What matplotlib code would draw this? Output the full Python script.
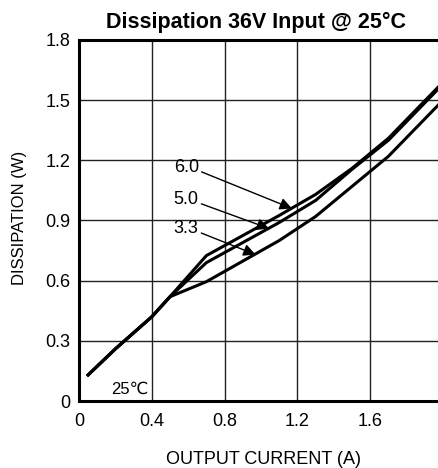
import matplotlib
matplotlib.use("Agg")
import matplotlib.pyplot as plt

plt.rcParams['font.family'] = ['Liberation Sans', 'DejaVu Sans']

current = [0.05, 0.2, 0.4, 0.5, 0.7, 1.1, 1.3, 1.5, 1.7, 2.0]
diss_60 = [0.13, 0.26, 0.42, 0.52, 0.725, 0.925, 1.03, 1.16, 1.31, 1.59]
diss_50 = [0.13, 0.26, 0.42, 0.52, 0.69, 0.89, 1.00, 1.155, 1.30, 1.58]
diss_33 = [0.13, 0.26, 0.42, 0.52, 0.595, 0.80, 0.92, 1.07, 1.22, 1.50]
x_ticks = [0, 0.4, 0.8, 1.2, 1.6, 2.0]
x_labels = ["0", "0.4", "0.8", "1.2", "1.6", "2"]
y_ticks = [0, 0.3, 0.6, 0.9, 1.2, 1.5, 1.8]
y_labels = ["0", "0.3", "0.6", "0.9", "1.2", "1.5", "1.8"]

W, H = 438, 468
fig = plt.figure(figsize=(W/100, H/100), dpi=100)
ax = fig.add_axes([79/W, 67/H, 364/W, 361/H])

for ys in (diss_60, diss_50, diss_33):
    ax.plot(current, ys, color='black', lw=2.2, solid_joinstyle='miter', zorder=3)

ax.set_xlim(0, 2.0)
ax.set_ylim(0, 1.8)
ax.set_xticks(x_ticks)
ax.set_xticklabels(x_labels)
ax.set_yticks(y_ticks)
ax.set_yticklabels(y_labels)
ax.tick_params(axis='both', length=0, labelsize=13, colors='black')
ax.tick_params(axis='x', pad=9)
ax.tick_params(axis='y', pad=6)
ax.grid(True, color='#222222', lw=1.0)
ax.set_axisbelow(True)
for s in ax.spines.values():
    s.set_linewidth(2.2)
    s.set_color('black')

arrow = dict(arrowstyle='-|>', color='black', lw=1.0, mutation_scale=18, shrinkA=0, shrinkB=0)
ax.annotate("6.0", xy=(1.17, 0.96), xytext=(0.52, 1.165), fontsize=13, va='center', ha='left',
            arrowprops=dict(arrow, relpos=(1.0, 0.3)))
ax.annotate("5.0", xy=(1.044, 0.86), xytext=(0.52, 1.005), fontsize=13, va='center', ha='left',
            arrowprops=dict(arrow, relpos=(1.0, 0.3)))
ax.annotate("3.3", xy=(0.97, 0.73), xytext=(0.52, 0.86), fontsize=13, va='center', ha='left',
            arrowprops=dict(arrow, relpos=(1.0, 0.3)))
ax.text(0.176, 0.06, "25\u2103", fontsize=12, va='center', ha='left')

fig.text(256/W, 1 - 28/H, "Dissipation 36V Input @ 25°C", fontsize=15.5, fontweight='bold',
         ha='center', va='baseline')
fig.text(263/W, 1 - 464/H, "OUTPUT CURRENT (A)", fontsize=13, ha='center', va='baseline')
fig.text(20/W, 1 - 218/H, "DISSIPATION (W)", fontsize=12, ha='center', va='center', rotation=90)

fig.savefig("out.png", dpi=100)
